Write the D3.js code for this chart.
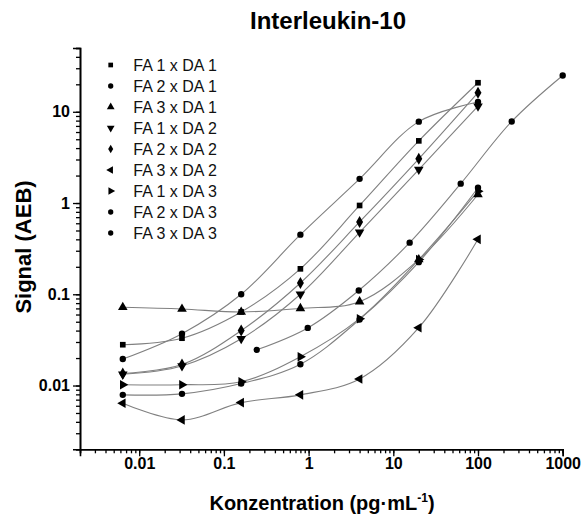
<!DOCTYPE html>
<html>
<head>
<meta charset="utf-8">
<script src="https://cdn.jsdelivr.net/npm/d3@7"></script>
<style>
  body { margin: 0; background: #fff; }
  text { font-family: Arial, "Liberation Sans", sans-serif; }
</style>
</head>
<body>
<script>
// dilution series (pg/mL)
const conc = [0.0064, 0.032, 0.16, 0.8, 4, 20, 100]
const concWide = [0.244, 0.977, 3.91, 15.6, 62.5, 250, 1000]

const seriesNames = [
  "FA 1 x DA 1", "FA 2 x DA 1", "FA 3 x DA 1",
  "FA 1 x DA 2", "FA 2 x DA 2", "FA 3 x DA 2",
  "FA 1 x DA 3", "FA 2 x DA 3", "FA 3 x DA 3",
]

// signal (AEB) per series
const fa1da1 = [0.028, 0.033, 0.064, 0.19, 0.94, 4.8, 20.8]
const fa2da1 = [0.0195, 0.037, 0.10, 0.45, 1.84, 7.8, 12.8]
const fa3da1 = [0.072, 0.069, 0.064, 0.070, 0.083, 0.24, 1.24]
const fa1da2 = [0.0133, 0.0164, 0.0325, 0.10, 0.478, 2.33, 11.5]
const fa2da2 = [0.0135, 0.017, 0.040, 0.133, 0.62, 3.05, 16.2]
const fa3da2 = [0.0064, 0.0042, 0.0065, 0.0079, 0.0118, 0.043, 0.40]
const fa1da3 = [0.0102, 0.0102, 0.0110, 0.0207, 0.054, 0.24, 1.35]
const fa2da3 = [0.0079, 0.0081, 0.0105, 0.0171, 0.053, 0.225, 1.47]
const fa3da3 = [0.0246, 0.0428, 0.110, 0.368, 1.63, 7.83, 25.0]

const xTickValues = [0.01, 0.1, 1, 10, 100, 1000]
const xTickLabels = ["0.01", "0.1", "1", "10", "100", "1000"]
const yTickValues = [0.01, 0.1, 1, 10]
const yTickLabels = ["0.01", "0.1", "1", "10"]

const seriesX = [conc, conc, conc, conc, conc, conc, conc, conc, concWide]
const seriesY = [fa1da1, fa2da1, fa3da1, fa1da2, fa2da2, fa3da2, fa1da3, fa2da3, fa3da3]

// marker shape + rotation per series
const shapes = [
  [d3.symbolSquare, 0], [d3.symbolCircle, 0], [d3.symbolTriangle, 0],
  [d3.symbolTriangle, 180], [d3.symbolDiamond, 0], [d3.symbolTriangle, -90],
  [d3.symbolTriangle, 90], [d3.symbolCircle, 0], [d3.symbolCircle, 0],
]

const width = 582
const height = 520
const margin = { top: 48, right: 19.3, bottom: 70.7, left: 80 }

const svg = d3.select("body")
  .append("svg")
  .attr("width", width)
  .attr("height", height)

svg.append("rect")
  .attr("width", width)
  .attr("height", height)
  .attr("fill", "#fff")

const x = d3.scaleLog()
  .domain([0.002, 1000])
  .range([margin.left, width - margin.right])

const y = d3.scaleLog()
  .domain([0.002, 50])
  .range([height - margin.bottom, margin.top])

// minor ticks
svg.append("g")
  .attr("transform", `translate(0,${height - margin.bottom})`)
  .call(d3.axisBottom(x).tickValues(x.ticks()).tickSize(4).tickFormat(""))
svg.append("g")
  .attr("transform", `translate(${margin.left},0)`)
  .call(d3.axisLeft(y).tickValues(y.ticks()).tickSize(4).tickFormat(""))

// major ticks + labels
svg.append("g")
  .attr("transform", `translate(0,${height - margin.bottom})`)
  .call(d3.axisBottom(x).tickValues(xTickValues).tickSize(7).tickPadding(1)
    .tickFormat((d, i) => xTickLabels[i]))
svg.append("g")
  .attr("transform", `translate(${margin.left},0)`)
  .call(d3.axisLeft(y).tickValues(yTickValues).tickSize(7).tickPadding(3)
    .tickFormat((d, i) => yTickLabels[i]))

svg.selectAll(".domain").attr("stroke", "#000").attr("stroke-width", 1.6)
svg.selectAll(".tick line").attr("stroke", "#000").attr("stroke-width", 1.3)
svg.selectAll(".tick text")
  .attr("fill", "#000")
  .style("font-family", "Arial, 'Liberation Sans', sans-serif")
  .style("font-size", "16px")
  .style("font-weight", "bold")

// curves
const line = d3.line()
  .x(d => x(d[0]))
  .y(d => y(d[1]))
  .curve(d3.curveCatmullRom.alpha(0.5))

seriesY.forEach((vals, s) => {
  const pts = vals.map((v, i) => [seriesX[s][i], v])
  svg.append("path")
    .datum(pts)
    .attr("d", line)
    .attr("fill", "none")
    .attr("stroke", "#808080")
    .attr("stroke-width", 1.1)
})

// markers
seriesY.forEach((vals, s) => {
  const [type, rot] = shapes[s]
  const size = type === d3.symbolTriangle ? 40 : type === d3.symbolDiamond ? 42 : 32
  svg.append("g")
    .selectAll("path")
    .data(vals.map((v, i) => [seriesX[s][i], v]))
    .enter()
    .append("path")
    .attr("d", d3.symbol().type(type).size(size))
    .attr("transform", d => `translate(${x(d[0])},${y(d[1])}) rotate(${rot})`)
    .attr("fill", "#000")
})

// legend
const legend = svg.append("g")
  .selectAll("g")
  .data(seriesNames)
  .enter()
  .append("g")
  .attr("transform", (d, i) => `translate(110.7,${65 + i * 21})`)

legend.append("path")
  .attr("d", (d, i) => d3.symbol().type(shapes[i][0]).size(shapes[i][0] === d3.symbolTriangle ? 26 : 22)())
  .attr("transform", (d, i) => `rotate(${shapes[i][1]})`)
  .attr("fill", "#000")

legend.append("text")
  .attr("x", 22.6)
  .attr("dy", "0.35em")
  .style("font-size", "16px")
  .attr("fill", "#111")
  .text(d => d)

// titles
svg.append("text")
  .attr("x", 328)
  .attr("y", 29)
  .attr("text-anchor", "middle")
  .style("font-size", "24px")
  .style("font-weight", "bold")
  .text("Interleukin-10")

const xt = svg.append("text")
  .attr("x", 322)
  .attr("y", 510)
  .attr("text-anchor", "middle")
  .style("font-size", "20px")
  .style("font-weight", "bold")
xt.append("tspan").text("Konzentration (pg·mL")
xt.append("tspan").attr("dy", -8).style("font-size", "12px").text("-1")
xt.append("tspan").attr("dy", 8).text(")")

svg.append("text")
  .attr("transform", "translate(31,247) rotate(-90)")
  .attr("text-anchor", "middle")
  .style("font-size", "22px")
  .style("font-weight", "bold")
  .text("Signal (AEB)")
</script>
</body>
</html>
